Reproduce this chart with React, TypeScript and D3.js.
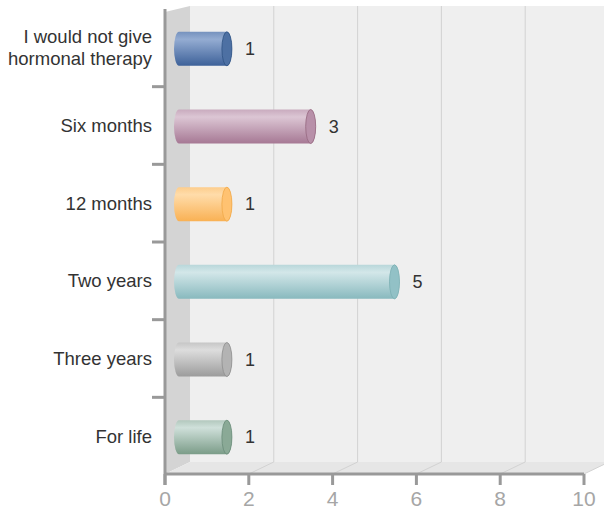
import React from "react";
import * as d3 from "d3";

const categories = [
  "I would not give\nhormonal therapy",
  "Six months",
  "12 months",
  "Two years",
  "Three years",
  "For life",
];
const values = [1, 3, 1, 5, 1, 1];
const ticks = [0, 2, 4, 6, 8, 10];
const lightColors = ["#94acd2", "#dcc6d4", "#ffdcaa", "#d3e7e9", "#dddddd", "#cfe0da"];
const darkColors = ["#3d6199", "#a67894", "#f9b154", "#88b9be", "#9c9c9c", "#7b9c88"];
const capColors = ["#4d70a3", "#b890a9", "#ffc271", "#92c1c6", "#b3b3b3", "#8aa996"];
const capStroke = ["#2f5384", "#95677f", "#f0a848", "#7aaeb3", "#8e8e8e", "#6a8c78"];

export default function App() {
  const W = 604;
  const H = 512;
  const x0 = 165;
  const xFront = d3.scaleLinear().domain([0, 10]).range([x0, 584]);
  const DX = 25;
  const yFloorFront = 474;
  const yFloorBack = 462;
  const yTop = 6;
  const y = d3.scaleBand<number>().domain(d3.range(categories.length)).range([9, 475]);
  const xBar = (v: number) => xFront(v) + 20;
  const rx = 5;
  const halfH = 17;

  return (
    <svg width={W} height={H} style={{ position: "absolute", left: 0, top: 0 }}
      fontFamily="'Liberation Sans', Arial, sans-serif">
      <defs>
        {values.map((_, i) => (
          <linearGradient key={i} id={`g${i}`} x1="0" y1="0" x2="0" y2="1">
            <stop offset="0%" stopColor={d3.interpolateRgb(lightColors[i], darkColors[i])(0.35)} />
            <stop offset="22%" stopColor={lightColors[i]} />
            <stop offset="100%" stopColor={darkColors[i]} />
          </linearGradient>
        ))}
      </defs>
      <rect x={0} y={0} width={W} height={H} fill="#ffffff" />
      {/* back wall */}
      <rect x={x0 + DX} y={yTop} width={W - x0 - DX} height={yFloorBack - yTop} fill="#efefef" />
      {/* left wall */}
      <polygon points={`${x0},12 ${x0 + DX},${yTop} ${x0 + DX},${yFloorBack} ${x0},${yFloorFront}`} fill="#d4d4d4" />
      {/* floor */}
      <polygon points={`${x0},${yFloorFront} ${x0 + DX},${yFloorBack} ${xFront(10) + DX},${yFloorBack} ${xFront(10)},${yFloorFront}`} fill="#e6e6e6" />
      {/* grid lines */}
      {ticks.slice(1).map((t) => (
        <g key={t}>
          <line x1={xFront(t) + DX} x2={xFront(t) + DX} y1={yTop} y2={yFloorBack} stroke="#d2d2d2" strokeWidth={1} />
          <line x1={xFront(t)} y1={yFloorFront} x2={xFront(t) + DX} y2={yFloorBack} stroke="#d2d2d2" strokeWidth={1} />
        </g>
      ))}
      {/* bars */}
      {values.map((v, i) => {
        const cy = (y(i) as number) + y.bandwidth() / 2 + 1;
        const xs = xBar(0) - 6;
        const xe = xBar(v);
        const t = cy - halfH;
        const b = cy + halfH;
        const d = `M${xs},${t} L${xe},${t} A${rx},${halfH} 0 0 1 ${xe},${b} L${xs},${b} A${rx},${halfH} 0 0 1 ${xs},${t} Z`;
        return (
          <g key={i}>
            <path d={d} fill={`url(#g${i})`} />
            <ellipse cx={xe} cy={cy} rx={rx} ry={halfH} fill={capColors[i]} stroke={capStroke[i]} strokeWidth={0.8} />
            <text x={xe + 18} y={cy} dy="0.35em" fontSize={18} fill="#333">{v}</text>
          </g>
        );
      })}
      {/* axes */}
      <line x1={x0} x2={x0} y1={9} y2={485} stroke="#999" strokeWidth={3} />
      <line x1={x0} x2={xFront(10)} y1={yFloorFront} y2={yFloorFront} stroke="#999" strokeWidth={3} />
      {d3.range(1, categories.length).map((i) => (
        <line key={i} x1={152} x2={x0} y1={y(i) as number} y2={y(i) as number} stroke="#999" strokeWidth={3} />
      ))}
      {ticks.map((t) => (
        <g key={t}>
          <line x1={xFront(t)} x2={xFront(t)} y1={yFloorFront} y2={485} stroke="#999" strokeWidth={3} />
          <text x={xFront(t)} y={506} textAnchor="middle" fontSize={21} fill="#a6a6a6">{t}</text>
        </g>
      ))}
      {/* category labels */}
      {categories.map((c, i) => {
        const lines = c.split("\n");
        const cy = (y(i) as number) + y.bandwidth() / 2;
        return (
          <text key={i} x={152} textAnchor="end" fontSize={18.5} fill="#333">
            {lines.map((l, j) => (
              <tspan key={j} x={152} y={cy + (j - (lines.length - 1) / 2) * 22} dy="0.35em">{l}</tspan>
            ))}
          </text>
        );
      })}
    </svg>
  );
}
